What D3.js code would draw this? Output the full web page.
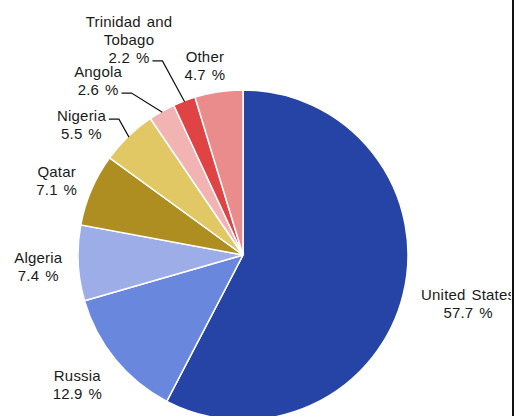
<!DOCTYPE html>
<html>
<head>
<meta charset="utf-8">
<script src="https://cdn.jsdelivr.net/npm/d3@7"></script>
<style>
  body { margin: 0; background: #fff; }
  svg { display: block; }
</style>
</head>
<body>
<script>
// data
var countries = ["United States", "Russia", "Algeria", "Qatar", "Nigeria", "Angola", "Trinidad and Tobago", "Other"];
var shares = [57.7, 12.9, 7.4, 7.1, 5.5, 2.6, 2.2, 4.7];
var labelLines = [["United States"], ["Russia"], ["Algeria"], ["Qatar"], ["Nigeria"], ["Angola"], ["Trinidad and", "Tobago"], ["Other"]];
var colors = ["#2643a6", "#6a87de", "#9dade8", "#af8e21", "#e1c865", "#f2b3b3", "#e04343", "#eb8c8c"];

// layout
var w = 519, h = 416;
var cx = 243, cy = 255, r = 165;
var labelR = 205;
var lineH = 18;
// nudges for the labels the default placement gets wrong
var nudge = {
  "United States": [26, 0], "Russia": [-7, 0], "Algeria": [0, 2], "Qatar": [2, 7],
  "Nigeria": [-19, 17], "Angola": [-44, 4], "Trinidad and Tobago": [-41, -24], "Other": [-8, 13]
};
// which text line a leader line attaches to
var leaderLine = { "Nigeria": 0, "Angola": 1, "Trinidad and Tobago": 2 };

var data = countries.map((c, i) => ({ name: c, value: shares[i], lines: labelLines[i], color: colors[i] }));

var svg = d3.select('body')
  .append('svg')
  .attr('width', w)
  .attr('height', h);

svg.append('defs').append('clipPath')
  .attr('id', 'clip')
  .append('rect')
  .attr('x', 0).attr('y', 0)
  .attr('width', 511).attr('height', h);

var g = svg.append('g')
  .attr('clip-path', 'url(#clip)')
  .append('g')
  .attr('transform', 'translate(' + cx + ',' + cy + ')');

var pie = d3.pie()
  .sort(null)
  .value(d => d.value);

var arc = d3.arc().innerRadius(0).outerRadius(r);
var arcs = pie(data);

g.selectAll('path.slice')
  .data(arcs)
  .enter()
  .append('path')
  .attr('class', 'slice')
  .attr('d', arc)
  .attr('fill', d => d.data.color)
  .attr('stroke', '#fff')
  .attr('stroke-width', 1.5);

function polar(a, rad) {
  return [rad * Math.sin(a), -rad * Math.cos(a)];
}

g.selectAll('g.label')
  .data(arcs)
  .enter()
  .append('g')
  .attr('class', 'label')
  .each(function(d) {
    var mid = (d.startAngle + d.endAngle) / 2;
    var p = polar(mid, labelR);
    var n = nudge[d.data.name] || [0, 0];
    var lines = d.data.lines.concat([d3.format('.1f')(d.data.value) + ' %']);
    var x = p[0] + n[0];
    var y = p[1] + n[1];
    // block spans cap top of line 0 to baseline of last line
    var b0 = y - ((lines.length - 1) * lineH - 11) / 2;
    var sel = d3.select(this);
    var texts = sel.selectAll('text')
      .data(lines)
      .enter()
      .append('text')
      .text(t => t)
      .attr('x', x)
      .attr('y', (t, i) => b0 + i * lineH)
      .attr('text-anchor', 'middle')
      .attr('font-family', '"Liberation Sans", Arial, sans-serif')
      .attr('font-size', '15px')
      .attr('letter-spacing', '0.2px')
      .attr('word-spacing', '1.5px')
      .attr('fill', '#1a1a1a');

    var k = leaderLine[d.data.name];
    if (k !== undefined) {
      var tw = texts.nodes()[k].getComputedTextLength();
      var lx = x + tw / 2 + 3;
      var ly = b0 + k * lineH - 2;
      var end = polar(mid, r - 1);
      sel.append('path')
        .attr('d', d3.line()([[lx, ly], [lx + 10, ly], end]))
        .attr('fill', 'none')
        .attr('stroke', '#111')
        .attr('stroke-width', 1.2);
    }
  });

// frame edge on the right
svg.append('rect')
  .attr('x', 512)
  .attr('y', 0)
  .attr('width', 2)
  .attr('height', h)
  .attr('fill', '#111');
</script>
</body>
</html>
